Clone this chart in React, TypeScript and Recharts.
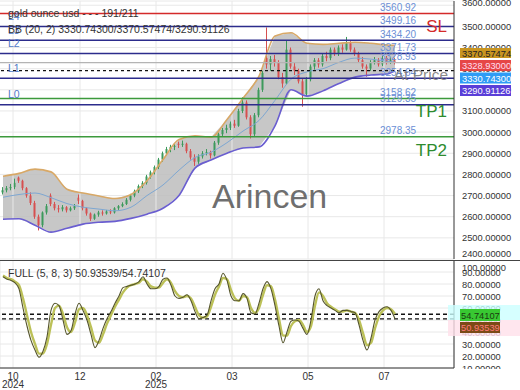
import React from "react";
import {
  ComposedChart,
  Bar,
  Line,
  Area,
  XAxis,
  YAxis,
  CartesianGrid,
  ReferenceLine,
} from "recharts";

// daily-ish candles, one per index
const opens = [
  2715, 2725, 2735, 2740, 2785, 2770, 2735, 2700, 2665, 2600,
  2560, 2620, 2700, 2660, 2640, 2635, 2645, 2630, 2640, 2690,
  2675, 2640, 2615, 2590, 2610, 2620, 2615, 2625, 2620, 2640,
  2650, 2660, 2680, 2700, 2720, 2745, 2760, 2790, 2810, 2835,
  2870, 2900, 2920, 2930, 2945, 2940, 2945, 2910, 2880, 2860,
  2885, 2900, 2905, 2890, 2950, 2990, 3010, 3020, 3040, 3030,
  3100, 3140, 3070, 2990, 3080, 3200, 3350, 3320, 3345, 3330,
  3260, 3230, 3390, 3310, 3290, 3240, 3180, 3250, 3310, 3340,
  3320, 3360, 3350, 3390, 3370, 3400, 3390, 3420, 3390, 3370,
  3340, 3310, 3300, 3330, 3340, 3320, 3350, 3330, 3340,
];
const highs = [
  2740, 2745, 2755, 2780, 2790, 2775, 2740, 2715, 2675, 2610,
  2625, 2660, 2710, 2670, 2655, 2655, 2650, 2648, 2660, 2705,
  2680, 2645, 2620, 2615, 2628, 2630, 2632, 2635, 2645, 2655,
  2668, 2688, 2708, 2728, 2752, 2768, 2798, 2818, 2842, 2878,
  2908, 2930, 2940, 2945, 2955, 2960, 2950, 2920, 2895, 2895,
  2910, 2920, 2912, 2958, 2998, 3020, 3035, 3050, 3058, 3110,
  3165, 3150, 3080, 3090, 3210, 3290, 3495, 3360, 3365, 3340,
  3280, 3435, 3400, 3330, 3300, 3255, 3260, 3320, 3350, 3350,
  3370, 3380, 3400, 3400, 3410, 3415, 3450, 3430, 3400, 3380,
  3355, 3320, 3340, 3355, 3350, 3360, 3360, 3352, 3350,
];
const lows = [
  2705, 2715, 2725, 2730, 2760, 2725, 2690, 2655, 2590, 2535,
  2550, 2610, 2650, 2630, 2620, 2625, 2620, 2625, 2632, 2660,
  2630, 2605, 2580, 2585, 2600, 2605, 2610, 2612, 2615, 2632,
  2645, 2655, 2672, 2692, 2712, 2735, 2752, 2780, 2800, 2825,
  2860, 2890, 2905, 2915, 2925, 2930, 2900, 2870, 2840, 2850,
  2875, 2890, 2875, 2885, 2940, 2980, 2995, 3010, 3020, 3025,
  3090, 3060, 2970, 2980, 3070, 3190, 3300, 3290, 3310, 3250,
  3210, 3225, 3300, 3270, 3230, 3120, 3170, 3240, 3295, 3305,
  3310, 3335, 3340, 3360, 3360, 3375, 3385, 3380, 3360, 3330,
  3300, 3262, 3290, 3320, 3310, 3312, 3320, 3322, 3320,
];
const closes = [
  2725, 2735, 2740, 2760, 2770, 2735, 2700, 2665, 2600, 2560,
  2620, 2650, 2660, 2640, 2635, 2645, 2630, 2640, 2650, 2675,
  2640, 2615, 2590, 2610, 2620, 2615, 2625, 2620, 2640, 2650,
  2660, 2680, 2700, 2720, 2745, 2760, 2790, 2810, 2835, 2870,
  2900, 2920, 2930, 2935, 2940, 2945, 2910, 2880, 2860, 2885,
  2900, 2905, 2890, 2950, 2990, 3010, 3020, 3040, 3030, 3100,
  3140, 3070, 2990, 3080, 3200, 3280, 3320, 3345, 3330, 3260,
  3230, 3390, 3310, 3290, 3240, 3180, 3250, 3310, 3340, 3320,
  3360, 3350, 3390, 3370, 3400, 3390, 3420, 3390, 3370, 3340,
  3310, 3300, 3330, 3340, 3320, 3350, 3330, 3340, 3330,
];

// Bollinger (20, 2), sampled at these candle indexes
const bbIndex = [0, 4, 8, 12, 16, 20, 24, 28, 32, 36, 40, 44, 48, 52, 56, 60, 64, 68, 72, 76, 80, 84, 88, 92, 96, 98];
const bbUpper = [
  2791, 2805, 2825, 2812, 2730, 2712, 2698, 2686, 2705, 2770, 2870, 2965, 2982,
  2976, 3060, 3160, 3265, 3455, 3470, 3420, 3415, 3420, 3425, 3420, 3412, 3410,
];
const bbMiddle = [
  2692, 2705, 2712, 2690, 2662, 2645, 2636, 2628, 2645, 2700, 2750, 2820, 2880,
  2905, 2950, 3005, 3055, 3150, 3250, 3285, 3300, 3330, 3350, 3345, 3335, 3331,
];
const bbLower = [
  2588, 2590, 2560, 2527, 2545, 2565, 2574, 2578, 2592, 2612, 2640, 2700, 2830,
  2868, 2900, 2925, 2930, 3030, 3200, 3170, 3195, 3230, 3260, 3270, 3275, 3290,
];

// stochastic FULL (5, 8, 3)
const stochK = [
  86, 84, 83, 81, 76, 60, 45, 33, 25, 19,
  24, 36, 58, 64, 62, 50, 38, 41, 55, 64,
  58, 50, 38, 27, 33, 43, 51, 57, 64, 70,
  77, 78, 79, 80, 82, 86, 80, 76, 76, 78,
  84, 85, 79, 70, 68, 69, 71, 66, 57, 51,
  52, 54, 66, 76, 80, 89, 83, 70, 66, 66,
  72, 68, 56, 55, 64, 76, 82, 76, 62, 45,
  31, 40, 49, 50, 49, 43, 38, 50, 70, 76,
  66, 62, 60, 58, 56, 58, 58, 57, 56, 46,
  33, 25, 35, 50, 57, 60, 61, 58, 51,
];
const stochD = [
  87, 85, 84, 82, 79, 68, 54, 40, 30, 22,
  22, 30, 46, 60, 62, 55, 44, 40, 48, 59,
  60, 54, 44, 33, 31, 38, 47, 54, 61, 67,
  73, 77, 79, 80, 81, 84, 82, 78, 77, 77,
  81, 84, 81, 74, 70, 69, 70, 68, 61, 54,
  52, 53, 61, 71, 78, 85, 84, 75, 68, 66,
  70, 69, 60, 56, 60, 71, 79, 78, 67, 51,
  37, 37, 45, 49, 50, 46, 40, 45, 62, 73,
  70, 64, 61, 59, 57, 57, 58, 57, 56, 50,
  39, 29, 31, 43, 53, 58, 60, 59, 55,
];

const monthTicks = [2.5, 19.25, 38.25, 57.25, 76.25, 95.25];
const monthLabels = ["10", "12", "02", "03", "05", "07"];
const yearLabels = ["2024", "", "2025", "", "", ""];

const priceTicks = [2400, 2500, 2600, 2700, 2800, 2900, 3000, 3100, 3200, 3300, 3400, 3500, 3600];
const stochTicks = [10, 20, 30, 40, 50, 60, 70, 80, 90, 100];

// horizontal levels
const levelValues = [3560.92, 3499.16, 3434.2, 3371.73, 3328.93, 3290.91, 3254.64, 3158.62, 3129.35, 2978.35];
const levelTexts = ["3560.92", "3499.16", "3434.20", "3371.73", "3328.93", "", "3254.64", "3158.62", "3129.35", "2978.35"];
const levelKinds = ["sl", "level", "level", "level", "current", "entry", "level", "tp", "level", "tp"];
const levelTags = ["", "L4", "L3", "L2", "", "", "L1", "", "L0", ""];

const bbValues = ["3330.74300", "3370.57474", "3290.91126"];
const priceBoxes = ["3370.57474", "3328.93000", "3330.74300", "3290.91126"];
const stochValues = ["50.93539", "54.74107"];
const stochLast = [50.93539, 54.74107];

const FONT = '"Liberation Sans", Arial, sans-serif';
const UP = "#3d9a5c";
const DOWN = "#d65050";

const levelStyle: Record<string, { stroke: string; dash?: string; width: number }> = {
  sl: { stroke: "#d42a2a", width: 1.3 },
  level: { stroke: "#2c2c8c", width: 1.4 },
  current: { stroke: "#b4b4b4", width: 1.2 },
  entry: { stroke: "#111111", dash: "3 3", width: 1.2 },
  tp: { stroke: "#3c9a3c", width: 1.4 },
};

const rows: any[] = closes.map((c, i) => ({
  i,
  open: opens[i],
  high: highs[i],
  low: lows[i],
  close: c,
  band: [null, null],
  upper: null,
  middle: null,
  lower: null,
}));
bbIndex.forEach((idx, k) => {
  rows[idx].band = [bbLower[k], bbUpper[k]];
  rows[idx].upper = bbUpper[k];
  rows[idx].middle = bbMiddle[k];
  rows[idx].lower = bbLower[k];
});

const stochRows = stochK.map((k, i) => ({ i, k, d: stochD[i] }));

const Candle = (props: any) => {
  const { x, y, width, height, payload } = props;
  if (!payload) return null;
  const { open, close, high, low } = payload;
  const top = Math.min(y, y + height);
  const h = Math.abs(height);
  const ratio = high === low ? 0 : h / (high - low);
  const cx = x + width / 2;
  const bodyTop = top + (high - Math.max(open, close)) * ratio;
  const bodyH = Math.max(1, Math.abs(open - close) * ratio);
  const color = close >= open ? UP : DOWN;
  return (
    <g>
      <line x1={cx} x2={cx} y1={top} y2={top + h} stroke={color} strokeWidth={1} />
      <rect x={cx - 1} y={bodyTop} width={2} height={bodyH} fill={color} />
    </g>
  );
};

// the top label is pushed half out of the frame, the bottom one pulled up
const PriceTick = ({ x, y, payload }: any) => {
  const ty = y < 10 ? y - 3 : Math.min(y, 253);
  return (
    <text x={x} y={ty} dy={3.5} fontSize={9.3} fill="#333" fontFamily={FONT}>
      {Number(payload.value).toFixed(5)}
    </text>
  );
};

const StochTick = ({ x, y, payload }: any) => (
  <text x={x} y={Math.max(y, 7)} dy={3.5} fontSize={9.3} fill="#333" fontFamily={FONT}>
    {Number(payload.value).toFixed(5)}
  </text>
);

const MonthTick = ({ x, y, payload }: any) => {
  const n = monthTicks.indexOf(payload.value);
  return (
    <g fontFamily={FONT} fontSize={10} fill="#333">
      <text x={x} y={y + 11.5} textAnchor="middle">{monthLabels[n]}</text>
      {yearLabels[n] ? (
        <text x={x} y={y + 19.5} textAnchor="middle">{yearLabels[n]}</text>
      ) : null}
    </g>
  );
};

const levelLabel = (text: string, tag: string) => (props: any) => {
  const vb = props.viewBox || {};
  return (
    <g fontFamily={FONT}>
      {text ? (
        <text x={vb.x + 380} y={vb.y - 2.5} fontSize={10} fill="#6b8fd6">{text}</text>
      ) : null}
      {tag ? (
        <text x={vb.x + 8} y={vb.y - 6.5} fontSize={10.5} fill="#4f79c8">{tag}</text>
      ) : null}
    </g>
  );
};

export default function App() {
  return (
    <div style={{ position: "absolute", left: 0, top: 0, width: 520, height: 390, background: "#fff", fontFamily: FONT }}>
      <div style={{ position: "absolute", left: 0, top: 0 }}>
        <ComposedChart width={520} height={260} data={rows} margin={{ top: 1, right: 0, left: 0, bottom: 1 }}>
          <CartesianGrid vertical={false} stroke="#e8e8e8" />
          <XAxis dataKey="i" type="number" domain={[-0.75, 112.75]} allowDataOverflow hide />
          <YAxis
            orientation="right"
            width={66}
            domain={[2400, 3620]}
            allowDataOverflow
            ticks={priceTicks}
            interval={0}
            tickSize={0}
            tickMargin={8}
            tickLine={false}
            axisLine={{ stroke: "#333" }}
            tick={PriceTick}
          />
          {monthTicks.map((t) => (
            <ReferenceLine key={`v${t}`} x={t} stroke="#e8e8e8" />
          ))}
          <Area
            dataKey="band"
            stroke="none"
            fill="#bdbdbd"
            fillOpacity={0.85}
            connectNulls
            isAnimationActive={false}
          />
          <Line dataKey="middle" stroke="#7ea7d2" strokeWidth={1} dot={false} connectNulls type="monotone" isAnimationActive={false} />
          <Line dataKey="upper" stroke="#d8a866" strokeWidth={1.6} dot={false} connectNulls type="monotone" isAnimationActive={false} />
          <Line dataKey="lower" stroke="#6a5ed0" strokeWidth={1.6} dot={false} connectNulls type="monotone" isAnimationActive={false} />
          <Bar
            dataKey={(r: any) => [r.low, r.high]}
            barSize={3}
            shape={Candle}
            isAnimationActive={false}
          />
          {levelValues.map((v, n) => {
            const st = levelStyle[levelKinds[n]];
            return (
              <ReferenceLine
                key={`l${n}`}
                y={v}
                stroke={st.stroke}
                strokeWidth={st.width}
                strokeDasharray={st.dash}
                label={levelLabel(levelTexts[n], levelTags[n])}
              />
            );
          })}
        </ComposedChart>
      </div>

      <div style={{ position: "absolute", left: 0, top: 260 }}>
        <ComposedChart width={520} height={130} data={stochRows} margin={{ top: 0, right: 0, left: 0, bottom: 0 }}>
          <CartesianGrid stroke="#e8e8e8" />
          <XAxis
            dataKey="i"
            type="number"
            domain={[-0.75, 112.75]}
            allowDataOverflow
            ticks={monthTicks}
            interval={0}
            height={22}
            tickSize={0}
            tickMargin={0}
            tickLine={false}
            axisLine={{ stroke: "#333" }}
            tick={MonthTick}
          />
          <YAxis
            orientation="right"
            width={66}
            domain={[10, 100]}
            allowDataOverflow
            ticks={stochTicks}
            interval={0}
            tickSize={0}
            tickMargin={8}
            tickLine={false}
            axisLine={{ stroke: "#333" }}
            tick={StochTick}
          />
          <ReferenceLine y={stochLast[1]} stroke="#111" strokeWidth={1.4} strokeDasharray="4 3" />
          <ReferenceLine y={stochLast[0]} stroke="#111" strokeWidth={1.4} strokeDasharray="4 3" />
          <Line dataKey="d" stroke="#bcc158" strokeWidth={2.4} dot={false} type="monotone" isAnimationActive={false} />
          <Line dataKey="k" stroke="#55552c" strokeWidth={1.1} dot={false} type="monotone" isAnimationActive={false} />
        </ComposedChart>
      </div>

      <svg width={520} height={390} style={{ position: "absolute", left: 0, top: 0, pointerEvents: "none" }} fontFamily={FONT}>
        <line x1={0} x2={520} y1={260.5} y2={260.5} stroke="#444" strokeWidth={1} />
        <rect x={455} y={369} width={65} height={21} fill="#fff" />

        <text x={8} y={17} fontSize={10.5} fill="#333">gold ounce usd - - - 191/211</text>
        <text x={8} y={33} fontSize={10.5} fill="#333">
          BB (20, 2){"   "}
          <tspan>{bbValues.join("/")}</tspan>
        </text>
        <text x={8} y={276.5} fontSize={10.5} fill="#333">
          FULL (5, 8, 3){"   "}
          <tspan>{stochValues.join("/")}</tspan>
        </text>

        <text x={447} y={32} fontSize={17} fill="#d42a2a" textAnchor="end">SL</text>
        <text x={447} y={117} fontSize={17} fill="#2e8b2e" textAnchor="end">TP1</text>
        <text x={447} y={156} fontSize={17} fill="#2e8b2e" textAnchor="end">TP2</text>
        <text x={448} y={80} fontSize={15.5} fill="#777" fillOpacity={0.85} textAnchor="end">At Price</text>
        <text x={212} y={208} fontSize={34} fill="#555" fillOpacity={0.85}>Arincen</text>

        <rect x={460} y={48} width={51} height={10} fill="#c99520" />
        <text x={462} y={56.5} fontSize={9.3} fill="#222">{priceBoxes[0]}</text>
        <rect x={460} y={60} width={51} height={11} fill="#e64646" />
        <text x={462} y={69} fontSize={9.3} fill="#fde">{priceBoxes[1]}</text>
        <rect x={460} y={72.5} width={51} height={11} fill="#2f9cf5" />
        <text x={462} y={81.5} fontSize={9.3} fill="#fff">{priceBoxes[2]}</text>
        <rect x={460} y={85} width={51} height={11} fill="#5a3ed8" />
        <text x={462} y={94} fontSize={9.3} fill="#fff">{priceBoxes[3]}</text>

        <rect x={448} y={305} width={72} height={15} fill="#ccffff" fillOpacity={0.8} />
        <rect x={448} y={320} width={72} height={16} fill="#ffe0ea" fillOpacity={0.8} />
        <rect x={460} y={309} width={40} height={12} fill="#38c832" />
        <text x={461} y={318.5} fontSize={9.3} fill="#1a3a10">{stochValues[1]}</text>
        <rect x={460} y={322} width={40} height={11} fill="#7b4a16" />
        <text x={461} y={331} fontSize={9.3} fill="#ff7b7b">{stochValues[0]}</text>
      </svg>
    </div>
  );
}
